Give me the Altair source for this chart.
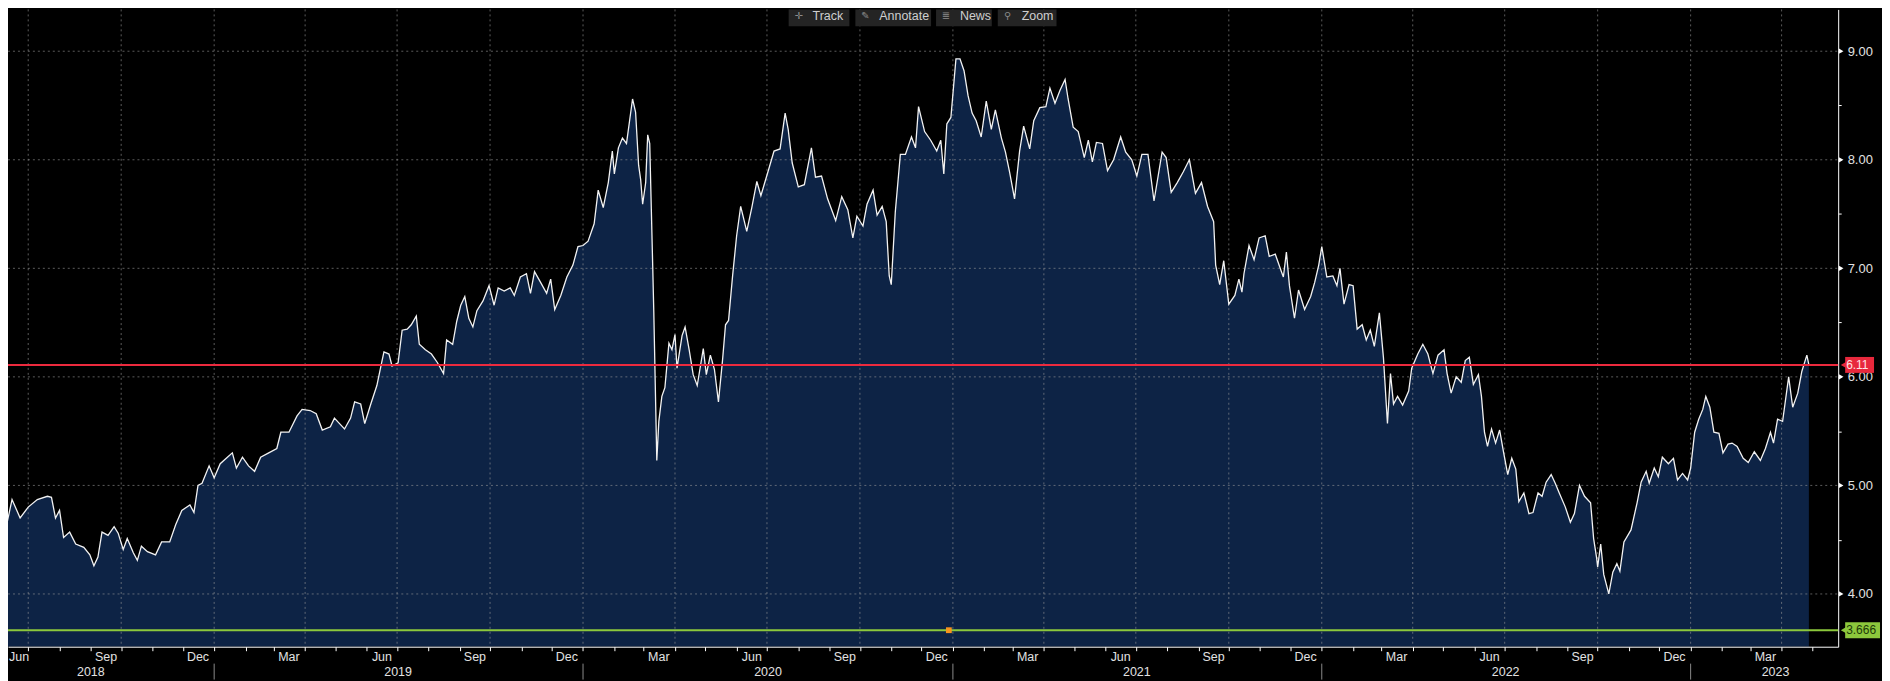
import calendar
import altair as alt
import pandas as pd

# ---------------- data ----------------
dates_2018 = ["2018-05-29","2018-06-02","2018-06-08","2018-06-14","2018-06-22","2018-06-30","2018-07-09","2018-07-19",
              "2018-07-23","2018-07-27","2018-07-31","2018-08-04","2018-08-10","2018-08-16","2018-08-24","2018-08-30",
              "2018-09-03","2018-09-07","2018-09-11","2018-09-17","2018-09-23","2018-09-27","2018-10-02","2018-10-06",
              "2018-10-12","2018-10-16","2018-10-20","2018-10-26","2018-11-03","2018-11-09","2018-11-17","2018-11-23",
              "2018-11-29","2018-12-07","2018-12-11","2018-12-15","2018-12-19","2018-12-26","2018-12-31"]
values_2018 = [4.74,4.77,4.61,4.87,4.70,4.80,4.87,4.90,4.89,4.70,4.77,4.52,4.57,4.46,4.43,4.36,
               4.26,4.34,4.57,4.54,4.62,4.56,4.41,4.51,4.38,4.31,4.44,4.39,4.36,4.48,4.48,4.64,
               4.77,4.82,4.75,5.00,5.02,5.18,5.07]

dates_2019 = ["2019-01-06","2019-01-12","2019-01-18","2019-01-22","2019-01-28","2019-02-03","2019-02-09","2019-02-15",
              "2019-02-23","2019-03-03","2019-03-07","2019-03-15","2019-03-23","2019-03-28","2019-04-05","2019-04-11",
              "2019-04-17","2019-04-25","2019-04-29","2019-05-05","2019-05-09","2019-05-15","2019-05-19","2019-05-25",
              "2019-05-29","2019-06-04","2019-06-10","2019-06-14","2019-06-17","2019-06-22","2019-06-25","2019-07-01",
              "2019-07-05","2019-07-10","2019-07-14","2019-07-19","2019-07-22","2019-07-28","2019-08-03","2019-08-09",
              "2019-08-15","2019-08-18","2019-08-24","2019-08-28","2019-09-01","2019-09-05","2019-09-09","2019-09-13",
              "2019-09-17","2019-09-23","2019-09-29","2019-10-04","2019-10-08","2019-10-14","2019-10-20","2019-10-24",
              "2019-10-30","2019-11-05","2019-11-09","2019-11-13","2019-11-19","2019-11-25","2019-11-29","2019-12-03",
              "2019-12-09","2019-12-15","2019-12-21","2019-12-26","2019-12-31"]
values_2019 = [5.20,5.25,5.30,5.16,5.26,5.18,5.13,5.26,
               5.30,5.34,5.49,5.49,5.64,5.70,5.69,5.66,
               5.51,5.54,5.62,5.56,5.52,5.62,5.77,5.75,
               5.57,5.75,5.92,6.10,6.23,6.21,6.10,6.13,
               6.43,6.44,6.48,6.56,6.30,6.25,6.21,6.13,
               6.03,6.34,6.30,6.51,6.66,6.74,6.54,6.46,
               6.61,6.70,6.84,6.66,6.82,6.79,6.82,6.75,
               6.92,6.95,6.77,6.97,6.87,6.77,6.90,6.62,
               6.75,6.92,7.03,7.20,7.21]

dates_2020 = ["2020-01-05","2020-01-11","2020-01-15","2020-01-20","2020-01-25","2020-01-29","2020-01-31","2020-02-04",
              "2020-02-08","2020-02-12","2020-02-18","2020-02-21","2020-02-24","2020-02-26","2020-02-28","2020-03-02",
              "2020-03-04","2020-03-06","2020-03-09","2020-03-10","2020-03-13","2020-03-15","2020-03-18","2020-03-21",
              "2020-03-25","2020-03-28","2020-03-31","2020-04-02","2020-04-07","2020-04-10","2020-04-14","2020-04-18",
              "2020-04-22","2020-04-28","2020-05-01","2020-05-05","2020-05-09","2020-05-13","2020-05-17","2020-05-20",
              "2020-05-23","2020-05-27","2020-05-31","2020-06-04","2020-06-10","2020-06-15","2020-06-20","2020-06-24",
              "2020-07-01","2020-07-07","2020-07-13","2020-07-18","2020-07-21","2020-07-25","2020-07-31","2020-08-06",
              "2020-08-13","2020-08-17","2020-08-23","2020-08-29","2020-09-06","2020-09-12","2020-09-18","2020-09-23",
              "2020-09-27","2020-10-03","2020-10-07","2020-10-13","2020-10-17","2020-10-22","2020-10-26","2020-10-29",
              "2020-10-31","2020-11-04","2020-11-09","2020-11-14","2020-11-20","2020-11-24","2020-11-27","2020-12-03",
              "2020-12-09","2020-12-15","2020-12-19","2020-12-22","2020-12-25","2020-12-29"]
values_2020 = [7.25,7.41,7.72,7.56,7.79,8.08,7.87,8.11,
               8.20,8.15,8.56,8.44,7.95,7.82,7.59,7.79,
               8.23,8.15,7.00,6.61,5.23,5.59,5.82,5.90,
               6.31,6.25,6.39,6.08,6.38,6.46,6.25,6.02,
               5.92,6.26,6.02,6.20,6.07,5.77,6.15,6.48,
               6.52,6.93,7.30,7.57,7.34,7.56,7.80,7.67,
               7.89,8.08,8.10,8.43,8.28,7.97,7.75,7.77,
               8.11,7.84,7.85,7.64,7.44,7.66,7.54,7.28,
               7.48,7.39,7.59,7.72,7.49,7.57,7.43,6.93,
               6.85,7.52,8.05,8.05,8.21,8.11,8.49,8.26,
               8.18,8.08,8.18,7.87,8.33,8.39]

dates_2021 = ["2021-01-03","2021-01-07","2021-01-11","2021-01-15","2021-01-19","2021-01-23","2021-01-28","2021-02-02",
              "2021-02-07","2021-02-11","2021-02-17","2021-02-21","2021-02-25","2021-03-02","2021-03-07","2021-03-11",
              "2021-03-17","2021-03-21","2021-03-27","2021-04-02","2021-04-06","2021-04-11","2021-04-16","2021-04-21",
              "2021-04-24","2021-04-29","2021-05-04","2021-05-10","2021-05-14","2021-05-18","2021-05-22","2021-05-28",
              "2021-06-02","2021-06-08","2021-06-15","2021-06-20","2021-06-26","2021-07-01","2021-07-06","2021-07-12",
              "2021-07-18","2021-07-26","2021-07-30","2021-08-04","2021-08-10","2021-08-16","2021-08-22","2021-08-28",
              "2021-09-03","2021-09-09","2021-09-15","2021-09-17","2021-09-21","2021-09-25","2021-09-30","2021-10-06",
              "2021-10-10","2021-10-13","2021-10-15","2021-10-20","2021-10-25","2021-10-30","2021-11-05","2021-11-09",
              "2021-11-15","2021-11-21","2021-11-23","2021-11-26","2021-11-29","2021-12-04","2021-12-08","2021-12-14",
              "2021-12-20","2021-12-24","2021-12-28","2021-12-31"]
values_2021 = [8.93,8.93,8.82,8.59,8.43,8.36,8.21,8.54,
               8.28,8.46,8.20,8.07,7.89,7.64,8.08,8.31,
               8.10,8.36,8.48,8.49,8.66,8.52,8.64,8.74,
               8.56,8.30,8.26,8.02,8.18,7.98,8.16,8.15,
               7.90,8.00,8.21,8.07,8.00,7.85,8.05,8.05,
               7.62,8.07,8.02,7.70,7.79,7.89,8.00,7.69,
               7.79,7.57,7.43,7.03,6.85,7.07,6.67,6.75,
               6.90,6.78,6.95,7.21,7.08,7.28,7.30,7.11,
               7.13,6.97,6.92,7.15,6.84,6.54,6.80,6.62,
               6.74,6.87,7.03,7.20]

dates_2022 = ["2022-01-05","2022-01-11","2022-01-15","2022-01-18","2022-01-22","2022-01-27","2022-01-31","2022-02-04",
              "2022-02-09","2022-02-13","2022-02-17","2022-02-21","2022-02-26","2022-03-02","2022-03-06","2022-03-09",
              "2022-03-12","2022-03-16","2022-03-21","2022-03-27","2022-03-30","2022-04-05","2022-04-10","2022-04-15",
              "2022-04-20","2022-04-25","2022-05-01","2022-05-04","2022-05-08","2022-05-13","2022-05-18","2022-05-22",
              "2022-05-26","2022-05-30","2022-06-04","2022-06-07","2022-06-10","2022-06-13","2022-06-17","2022-06-21",
              "2022-06-25","2022-06-29","2022-07-03","2022-07-07","2022-07-11","2022-07-14","2022-07-19","2022-07-24",
              "2022-07-28","2022-08-02","2022-08-06","2022-08-10","2022-08-15","2022-08-19","2022-08-23","2022-08-29",
              "2022-09-03","2022-09-07","2022-09-12","2022-09-17","2022-09-23","2022-09-26","2022-09-29","2022-09-30",
              "2022-10-03","2022-10-06","2022-10-11","2022-10-15","2022-10-19","2022-10-22","2022-10-26","2022-11-02",
              "2022-11-08","2022-11-12","2022-11-17","2022-11-20","2022-11-25","2022-11-29","2022-12-03","2022-12-09",
              "2022-12-14","2022-12-18","2022-12-23","2022-12-28","2022-12-31"]
values_2022 = [6.92,6.93,6.84,7.00,6.67,6.85,6.84,6.44,
               6.48,6.34,6.43,6.28,6.59,6.18,5.57,6.03,
               5.75,5.82,5.74,5.87,6.08,6.21,6.30,6.21,
               6.03,6.20,6.25,6.03,5.85,6.00,5.95,6.15,
               6.18,5.93,6.02,5.82,5.49,5.36,5.52,5.39,
               5.51,5.30,5.10,5.25,5.15,4.85,4.93,4.74,
               4.75,4.93,4.90,5.03,5.10,5.02,4.93,4.80,
               4.66,4.74,5.00,4.90,4.84,4.51,4.33,4.25,
               4.46,4.18,4.00,4.20,4.28,4.21,4.48,4.59,
               4.84,5.03,5.13,5.02,5.16,5.08,5.26,5.20,
               5.25,5.05,5.11,5.05,5.16]

dates_2023 = ["2023-01-04","2023-01-08","2023-01-12","2023-01-15","2023-01-19","2023-01-23","2023-01-28","2023-02-01",
              "2023-02-06","2023-02-10","2023-02-15","2023-02-21","2023-02-26","2023-03-04","2023-03-10","2023-03-15",
              "2023-03-20","2023-03-23","2023-03-27","2023-04-01","2023-04-07","2023-04-11","2023-04-16","2023-04-20",
              "2023-04-25","2023-04-27"]
values_2023 = [5.49,5.61,5.70,5.82,5.72,5.49,5.48,5.30,
               5.38,5.39,5.36,5.25,5.21,5.31,5.23,5.34,
               5.49,5.39,5.61,5.59,6.00,5.72,5.85,6.05,
               6.20,6.11]

red_level = [6.11]
red_text = ["6.11"]
green_level = [3.666]
green_text = ["3.666"]
marker_dates = ["2020-12-27"]

y_label_values = [4, 5, 6, 7, 8, 9]
y_tick_values = [4, 4.5, 5, 5.5, 6, 6.5, 7, 7.5, 8, 8.5, 9]

quarter_label_names = {3: "Mar", 6: "Jun", 9: "Sep", 12: "Dec"}
year_labels = ["2018", "2019", "2020", "2021", "2022", "2023"]
year_label_dates = ["2018-08-31", "2019-07-01", "2020-07-01", "2021-07-01", "2022-07-01", "2023-03-25"]
year_breaks = ["2018-12-31", "2019-12-31", "2020-12-31", "2021-12-31", "2022-12-31"]

toolbar_items = ["Track", "Annotate", "News", "Zoom"]
toolbar_icons = ["\u271b", "\u270e", "\u2263", "\u26b2"]

# month ends (ticks), quarter ends (grid), quarter mid-month labels
month_ends, quarter_ends, q_label_dates, q_label_text = [], [], [], []
for yy in range(2018, 2024):
    for mm in range(1, 13):
        if (yy, mm) < (2018, 6) or (yy, mm) > (2023, 4):
            continue
        last = calendar.monthrange(yy, mm)[1]
        month_ends.append((yy, mm, last))
        if mm in quarter_label_names:
            quarter_ends.append(f"{yy}-{mm:02d}-{last:02d}")
            # first label sits a few days later so it is not cut at the left edge
            day = 21 if (yy, mm) == (2018, 6) else 15
            q_label_dates.append(f"{yy}-{mm:02d}-{day:02d}")
            q_label_text.append(quarter_label_names[mm])

# ---------------- layout ----------------
W, H = 1838, 640
FONT = "Liberation Sans"
TXT = "#e2e2e2"

series = pd.DataFrame({
    "date": dates_2018 + dates_2019 + dates_2020 + dates_2021 + dates_2022 + dates_2023,
    "value": values_2018 + values_2019 + values_2020 + values_2021 + values_2022 + values_2023,
})

xscale = alt.Scale(type="utc", domain=[alt.DateTime(year=2018, month=6, date=10, utc=True),
                                       alt.DateTime(year=2023, month=5, date=26, utc=True)])
yscale = alt.Scale(domain=[3.514, 9.385], nice=False, zero=False)

x_axis = alt.Axis(values=[alt.DateTime(year=a, month=b, date=c, utc=True) for a, b, c in month_ends],
                  labels=False, grid=False, title=None, domainColor="#ffffff", domainWidth=1,
                  tickColor="#ffffff", tickSize=4, tickWidth=1, zindex=1)
y_axis = alt.Axis(orient="right", values=y_tick_values, grid=False, title=None,
                  labelExpr="datum.value % 1 == 0 ? format(datum.value, '.2f') : ''",
                  labelOverlap=False, labelBound=False,
                  domainColor="#ffffff", domainWidth=1, tickColor="#ffffff", tickSize=3,
                  labelPadding=6, labelColor=TXT, labelFont=FONT, labelFontSize=13, zindex=0)


def X(field):
    return alt.X(field, scale=xscale, axis=x_axis, title=None)


def Y(field):
    return alt.Y(field, scale=yscale, axis=y_axis, title=None, stack=None)


area = alt.Chart(series).mark_area(color="#0d2345", clip=True).encode(
    x=X("date:T"), y=Y("value:Q"))

vgrid = alt.Chart(pd.DataFrame({"d": quarter_ends})).mark_rule(
    color="#9a9a9a", opacity=0.6, strokeDash=[2, 3], strokeWidth=1).encode(
    x=X("d:T"), y=alt.value(0), y2=alt.value(H))

hgrid = alt.Chart(pd.DataFrame({"v": y_label_values})).mark_rule(
    color="#9a9a9a", opacity=0.6, strokeDash=[2, 3], strokeWidth=1).encode(
    y=Y("v:Q"), x=alt.value(0), x2=alt.value(W))

line = alt.Chart(series).mark_line(color="#f2f2f2", strokeWidth=1.3, clip=True).encode(
    x=X("date:T"), y=Y("value:Q"))

red_df = pd.DataFrame({"level": red_level, "txt": red_text})
green_df = pd.DataFrame({"level": green_level, "txt": green_text})

red_rule = alt.Chart(red_df).mark_rule(color="#ec2a3e", strokeWidth=2).encode(
    y=Y("level:Q"), x=alt.value(0), x2=alt.value(W))
green_rule = alt.Chart(green_df).mark_rule(color="#8cc83c", strokeWidth=2).encode(
    y=Y("level:Q"), x=alt.value(0), x2=alt.value(W))

marker = alt.Chart(pd.DataFrame({"d": marker_dates, "level": green_level})).mark_square(
    color="#f7941d", size=34, opacity=1).encode(x=X("d:T"), y=Y("level:Q"))

# y-axis triangles
tri = alt.Chart(pd.DataFrame({"v": y_label_values})).mark_point(
    shape="triangle-right", filled=True, color="#ffffff", size=28, opacity=1).encode(
    y=Y("v:Q"), x=alt.value(W + 3))


def level_tag(df, bg, fg, x2):
    box = alt.Chart(df).mark_rect(color=bg, yOffset=-8, y2Offset=8).encode(
        y=Y("level:Q"), y2="level:Q", x=alt.value(W + 7), x2=alt.value(x2))
    arrow = alt.Chart(df).mark_point(shape="triangle-left", filled=True, color=bg,
                                     size=60, opacity=1).encode(
        y=Y("level:Q"), x=alt.value(W + 6))
    label = alt.Chart(df).mark_text(align="left", baseline="middle", font=FONT,
                                    fontSize=12, color=fg).encode(
        y=Y("level:Q"), x=alt.value(W + 8), text="txt:N")
    return [box, arrow, label]


qlabels = alt.Chart(pd.DataFrame({"d": q_label_dates, "t": q_label_text})).mark_text(
    align="center", baseline="middle", font=FONT, fontSize=12.5, color=TXT).encode(
    x=X("d:T"), y=alt.value(H + 10), text="t:N")

ylabels = alt.Chart(pd.DataFrame({"d": year_label_dates, "t": year_labels})).mark_text(
    align="center", baseline="middle", font=FONT, fontSize=12.5, color=TXT).encode(
    x=X("d:T"), y=alt.value(H + 25), text="t:N")

ybreaks = alt.Chart(pd.DataFrame({"d": year_breaks})).mark_rule(
    color="#8a8a8a", strokeWidth=1).encode(
    x=X("d:T"), y=alt.value(H + 17), y2=alt.value(H + 33))

# toolbar
one = pd.DataFrame({"k": [0]})
toolbar = []
btn_spans = [(784, 845), (851, 927), (932, 988), (994, 1053)]
for (a, b), name, icon in zip(btn_spans, toolbar_items, toolbar_icons):
    toolbar.append(alt.Chart(one).mark_rect(color="#242424").encode(
        x=alt.value(a), x2=alt.value(b), y=alt.value(0), y2=alt.value(17)))
    toolbar.append(alt.Chart(one).mark_text(text=icon, align="center", baseline="middle",
                                            font="DejaVu Sans", fontSize=10, color="#8c8c8c").encode(
        x=alt.value(a + 10), y=alt.value(7)))
    toolbar.append(alt.Chart(one).mark_text(text=name, align="left", baseline="middle",
                                            font=FONT, fontSize=12.5, color="#cfcfcf").encode(
        x=alt.value(a + 24), y=alt.value(7)))

layers = [area, vgrid, hgrid, line, red_rule, green_rule, marker, tri]
layers += level_tag(red_df, "#e8283c", "#ffe3e3", W + 36)
layers += level_tag(green_df, "#8cc83c", "#1d3a08", W + 42)
layers += [qlabels, ylabels, ybreaks] + toolbar

chart = alt.layer(*layers).properties(
    width=W, height=H,
    autosize=alt.AutoSizeParams(type="none"),
    padding={"left": 0, "top": 0, "right": 44, "bottom": 33},
    background="#000000",
).configure_view(strokeWidth=0)

chart.save("out.html", embed_options={"renderer": "svg", "actions": False})
